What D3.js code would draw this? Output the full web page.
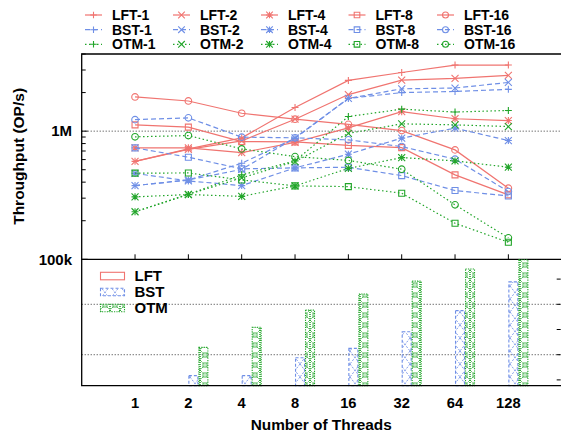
<!DOCTYPE html>
<html><head><meta charset="utf-8">
<script src="https://cdn.jsdelivr.net/npm/d3@7"></script>
<style>
html,body{margin:0;padding:0;background:#fff;}
text{font-family:"Liberation Sans",Arial,Helvetica,sans-serif;font-weight:bold;font-size:14px;fill:#000;}
</style></head>
<body>
<svg id="chart" width="561" height="437"></svg>
<script>
// ---------- data ----------
const categories = ["1","2","4","8","16","32","64","128"];

const lft1  = [581e3, 727e3, 887e3, 1.53e6, 2.49e6, 2.87e6, 3.28e6, 3.28e6];
const lft2  = [581e3, 721e3, 840e3, 1.24e6, 1.93e6, 2.50e6, 2.58e6, 2.72e6];
const lft4  = [741e3, 741e3, 680e3, 818e3, 1.06e6, 1.42e6, 1.25e6, 1.21e6];
const lft8  = [1.12e6, 1.075e6, 829e3, 825e3, 774e3, 744e3, 456e3, 318e3];
const lft16 = [1.85e6, 1.72e6, 1.38e6, 1.24e6, 1.13e6, 1.01e6, 714e3, 359e3];

const bst1  = [376e3, 416e3, 562e3, 879e3, 1.80e6, 2.00e6, 2.04e6, 2.12e6];
const bst2  = [376e3, 416e3, 503e3, 887e3, 1.80e6, 2.14e6, 2.17e6, 2.40e6];
const bst4  = [468e3, 409e3, 376e3, 517e3, 661e3, 882e3, 1.055e6, 845e3];
const bst8  = [741e3, 626e3, 508e3, 517e3, 523e3, 450e3, 344e3, 312e3];
const bst16 = [1.23e6, 1.27e6, 898e3, 887e3, 855e3, 758e3, 604e3, 338e3];

const otm1  = [235e3, 321e3, 456e3, 586e3, 1.30e6, 1.485e6, 1.41e6, 1.45e6];
const otm2  = [235e3, 321e3, 432e3, 579e3, 961e3, 1.14e6, 1.12e6, 1.086e6];
const otm4  = [307e3, 320e3, 310e3, 374e3, 512e3, 622e3, 586e3, 523e3];
const otm8  = [470e3, 472e3, 416e3, 374e3, 369e3, 328e3, 191e3, 136e3];
const otm16 = [903e3, 924e3, 727e3, 633e3, 591e3, 505e3, 266e3, 147e3];

// bottom panel (bars)
const barLFT = [0, 0, 0, 0, 0, 0, 0, 0];
const barBST = [0, 0.40, 0.40, 1.11, 1.48, 2.14, 2.98, 4.12];
const barOTM = [0, 1.52, 2.32, 3.00, 3.64, 4.15, 4.63, 5.00];

const yTickLabels = [{v:1e5, t:"100k"}, {v:1e6, t:"1M"}];
const bottomTicks = [0.23, 1.23, 2.23, 3.23, 4.23];
const bottomGrid = [1.23, 3.23];

const xTitle = "Number of Threads";
const yTitle = "Throughput (OP/s)";

// ---------- styles ----------
const colors = {LFT:"#f07470", BST:"#6f8fe6", OTM:"#22a52a"};
const dashes = {LFT:null, BST:"5,3", OTM:"1.5,2.5"};
const seriesDefs = [
  {fam:"LFT", n:"1", m:"plus", d:lft1},{fam:"LFT", n:"2", m:"x", d:lft2},{fam:"LFT", n:"4", m:"star", d:lft4},{fam:"LFT", n:"8", m:"square", d:lft8},{fam:"LFT", n:"16", m:"circle", d:lft16},
  {fam:"BST", n:"1", m:"plus", d:bst1},{fam:"BST", n:"2", m:"x", d:bst2},{fam:"BST", n:"4", m:"star", d:bst4},{fam:"BST", n:"8", m:"square", d:bst8},{fam:"BST", n:"16", m:"circle", d:bst16},
  {fam:"OTM", n:"1", m:"plus", d:otm1},{fam:"OTM", n:"2", m:"x", d:otm2},{fam:"OTM", n:"4", m:"star", d:otm4},{fam:"OTM", n:"8", m:"square", d:otm8},{fam:"OTM", n:"16", m:"circle", d:otm16}
];

const svg = d3.select("#chart");
const L = 81.7, R = 561.7, T = 54, B1 = 259.3, B2 = 385.7;

const x = d3.scalePoint().domain(categories).range([L, R]).padding(1);
const y = d3.scaleLog().domain([1e5, 4e6]).range([B1, T]);
const y2 = d3.scaleLinear().domain([0, 5]).range([B2, B1 + 0.4]);
const xb = d3.scaleBand().domain(["LFT","BST","OTM"]).range([-10, 20]).padding(0);

// patterns
const defs = svg.append("defs");
const pB = defs.append("pattern").attr("id","pBST").attr("patternUnits","userSpaceOnUse").attr("width",10).attr("height",13);
pB.append("path").attr("d","M0,0L10,13M10,0L0,13").attr("stroke",colors.BST).attr("stroke-width",0.9).attr("stroke-dasharray","2,1.5").attr("fill","none");
const pO = defs.append("pattern").attr("id","pOTM").attr("patternUnits","userSpaceOnUse").attr("width",10).attr("height",10);
pO.append("path").attr("d","M0,0L10,10M10,0L0,10").attr("stroke",colors.OTM).attr("stroke-width",1).attr("stroke-dasharray","1,1").attr("fill","none");
pO.append("rect").attr("x",3).attr("y",3).attr("width",4).attr("height",4).attr("stroke",colors.OTM).attr("stroke-width",0.8).attr("fill","#fff");
pO.append("rect").attr("x",4.5).attr("y",4.5).attr("width",1).attr("height",1).attr("fill",colors.OTM);
pO.append("path").attr("d","M0.5,0V10M9.5,0V10").attr("stroke",colors.OTM).attr("stroke-width",0.8).attr("stroke-dasharray","1,1");

function markerPath(m, s){
  const r = s;
  switch(m){
    case "plus": return `M${-r},0H${r}M0,${-r}V${r}`;
    case "x": return `M${-r},${-r}L${r},${r}M${r},${-r}L${-r},${r}`;
    case "star": return `M${-r},0H${r}M0,${-r}V${r}M${-r},${-r}L${r},${r}M${r},${-r}L${-r},${r}`;
    case "square": return `M${-r},${-r}H${r}V${r}H${-r}Z`;
    case "circle": return `M${r},0A${r},${r} 0 1 1 ${-r},0A${r},${r} 0 1 1 ${r},0Z`;
  }
}

// ---------- top panel ----------
const topG = svg.append("g");
topG.append("line").attr("x1",L).attr("x2",R).attr("y1",y(1e6)).attr("y2",y(1e6))
  .attr("stroke","#000").attr("stroke-width",0.8).attr("stroke-dasharray","1,2");

const minorTicks = y.ticks();
topG.selectAll("line.ytick").data(minorTicks).join("line")
  .attr("x1",L).attr("x2",d => L + ((Math.abs(Math.log10(d)%1)<1e-9)?6:4))
  .attr("y1",d=>y(d)).attr("y2",d=>y(d)).attr("stroke","#000").attr("stroke-width",1);
topG.selectAll("text.ylab").data(yTickLabels).join("text")
  .attr("x",72).attr("y",d=>y(d.v)+5.3).attr("text-anchor","end").style("font-size","15px").text(d=>d.t);

topG.selectAll("line.xtick").data(categories).join("line")
  .attr("x1",d=>x(d)).attr("x2",d=>x(d)).attr("y1",B1).attr("y2",B1-5).attr("stroke","#000").attr("stroke-width",1);

const lineGen = d3.line().x((d,i)=>x(categories[i])).y(d=>y(d));
seriesDefs.forEach(s => {
  const g = topG.append("g");
  g.append("path").attr("d", lineGen(s.d)).attr("fill","none").attr("stroke",colors[s.fam])
    .attr("stroke-width",1.2).attr("stroke-dasharray",dashes[s.fam]);
  g.selectAll("path.mk").data(s.d).join("path")
    .attr("transform",(d,i)=>`translate(${x(categories[i])},${y(d)})`)
    .attr("d", markerPath(s.m, s.m==="circle"?3.3:(s.m==="square"?3:3.5)))
    .attr("fill","none").attr("stroke",colors[s.fam]).attr("stroke-width",1.1);
});

topG.append("path").attr("d",`M${R},${T}H${L}V${B1}H${R}`).attr("fill","none").attr("stroke","#000").attr("stroke-width",1.3);

// top legend
const legCols = [85, 173, 261, 348.5, 437];
const legRows = {LFT:15, BST:29.7, OTM:44.3};
const nIdx = {"1":0,"2":1,"4":2,"8":3,"16":4};
seriesDefs.forEach(s => {
  const lx = legCols[nIdx[s.n]], ly = legRows[s.fam];
  const g = svg.append("g");
  g.append("line").attr("x1",lx).attr("x2",lx+17).attr("y1",ly).attr("y2",ly)
    .attr("stroke",colors[s.fam]).attr("stroke-width",1.2).attr("stroke-dasharray",dashes[s.fam]);
  g.append("path").attr("transform",`translate(${lx+8.5},${ly})`)
    .attr("d",markerPath(s.m, s.m==="circle"?3:(s.m==="square"?2.8:3.3))).attr("fill","none").attr("stroke",colors[s.fam]).attr("stroke-width",1.1);
  g.append("text").attr("x",lx+27).attr("y",ly+5).text(`${s.fam}-${s.n}`);
});

// ---------- bottom panel ----------
const botG = svg.append("g");
botG.selectAll("line.grid").data(bottomGrid).join("line")
  .attr("x1",L).attr("x2",R).attr("y1",d=>y2(d)).attr("y2",d=>y2(d))
  .attr("stroke","#000").attr("stroke-width",0.8).attr("stroke-dasharray","1,2");
botG.selectAll("line.rt").data(bottomTicks).join("line")
  .attr("x1",R-1).attr("x2",R-5).attr("y1",d=>y2(d)).attr("y2",d=>y2(d)).attr("stroke","#000").attr("stroke-width",1);

const barSets = [{fam:"LFT", d:barLFT},{fam:"BST", d:barBST},{fam:"OTM", d:barOTM}];
barSets.forEach(bs => {
  botG.selectAll(null).data(bs.d.map((v,i)=>({v, c:categories[i]})).filter(o=>o.v>0)).join("rect")
    .attr("x",o=>x(o.c)+xb(bs.fam)+0.5).attr("width",xb.bandwidth()-1)
    .attr("y",o=>y2(o.v)).attr("height",o=>y2(0)-y2(o.v))
    .attr("fill", bs.fam==="LFT" ? "none" : `url(#p${bs.fam})`)
    .attr("stroke",colors[bs.fam]).attr("stroke-width",1.1)
    .attr("stroke-dasharray", bs.fam==="BST"?"3,2":(bs.fam==="OTM"?"1.2,1.2":null));
});

botG.append("path").attr("d",`M${L},${B1}V${B2}H${R}`).attr("fill","none").attr("stroke","#000").attr("stroke-width",1.3);

const bl = [{fam:"LFT", y:272.3},{fam:"BST", y:288.3},{fam:"OTM", y:304.3}];
bl.forEach(o => {
  botG.append("rect").attr("x",100.5).attr("y",o.y).attr("width",24).attr("height",7.5)
    .attr("fill", o.fam==="LFT" ? "none" : `url(#p${o.fam})`)
    .attr("stroke",colors[o.fam]).attr("stroke-width",1.1)
    .attr("stroke-dasharray", o.fam==="BST"?"3,2":(o.fam==="OTM"?"1.2,1.2":null));
  botG.append("text").attr("x",134.5).attr("y",o.y+8.8).style("font-size","15px").text(o.fam);
});

svg.selectAll("text.xl").data(categories).join("text")
  .attr("x",d=>x(d)).attr("y",408).attr("text-anchor","middle").style("font-size","14.7px").text(d=>d);

svg.append("text").attr("x",321.2).attr("y",429.8).attr("text-anchor","middle").style("font-size","15.4px").text(xTitle);
svg.append("text").attr("transform","translate(23.5,156.4) rotate(-90)").attr("text-anchor","middle").style("font-size","15.5px").text(yTitle);
</script>
</body></html>
